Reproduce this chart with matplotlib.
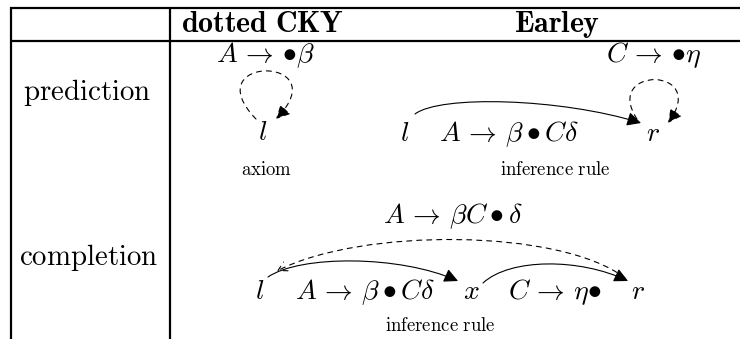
import matplotlib.pyplot as plt
from matplotlib.patches import FancyArrowPatch, ArrowStyle
from matplotlib.path import Path

plt.rcParams['mathtext.fontset'] = 'cm'

# table text
col_labels = [r'$\mathbf{dotted\ CKY}$', r'$\mathbf{Earley}$']
row_labels = [r'$\mathrm{prediction}$', r'$\mathrm{completion}$']
captions = [r'$\mathrm{axiom}$', r'$\mathrm{inference\ rule}$', r'$\mathrm{inference\ rule}$']

# items in the cells
cky_item = r'$A\,\rightarrow\,{\bullet}\beta$'
earley_pred_items = [r'$l$', r'$A\,\rightarrow\,\beta \bullet C\delta$', r'$r$']
earley_pred_top = r'$C\,\rightarrow\,{\bullet}\eta$'
compl_items = [r'$l$', r'$A\,\rightarrow\,\beta \bullet C\delta$', r'$x$',
               r'$C\,\rightarrow\,\eta{\bullet}$', r'$r$']
compl_top = r'$A\,\rightarrow\,\beta C \bullet \delta$'

W, H = 740, 339
fig = plt.figure(figsize=(W / 100, H / 100), dpi=100)
ax = fig.add_axes([0, 0, 1, 1])
ax.set_xlim(0, W)
ax.set_ylim(H, 0)
ax.axis('off')

FS = 20

# table rules
ax.plot([10, W], [8, 8], color='k', lw=1.6, solid_capstyle='butt')
ax.plot([10, W], [40.5, 40.5], color='k', lw=1.6, solid_capstyle='butt')
ax.plot([10.5, 10.5], [7.4, H], color='k', lw=1.6, solid_capstyle='butt')
ax.plot([170, 170], [7.4, H], color='k', lw=1.6, solid_capstyle='butt')

# header and row labels
ax.text(263, 31.5, col_labels[0], fontsize=21.5, ha='center', va='baseline')
ax.text(557, 31.5, col_labels[1], fontsize=21.5, ha='center', va='baseline')
ax.text(87, 100, row_labels[0], fontsize=20.8, ha='center', va='baseline')
ax.text(89, 265, row_labels[1], fontsize=20.8, ha='center', va='baseline')


def txt(x, y, s, size=FS):
    ax.text(x, y, s, fontsize=size, ha='center', va='baseline')


def arc(pts, dashed=False, head='-|>'):
    path = Path(pts, [Path.MOVETO, Path.CURVE4, Path.CURVE4, Path.CURVE4])
    if head == '-|>':
        style = ArrowStyle('-|>', head_length=0.6, head_width=0.3)
    else:
        style = ArrowStyle('->', head_length=0.45, head_width=0.25)
    ls = (0, (4.5, 4.5)) if dashed else '-'
    ax.add_patch(FancyArrowPatch(path=path, arrowstyle=style, mutation_scale=14,
                                 lw=0.8, color='k', linestyle=ls))


# prediction, dotted CKY
txt(265, 62, cky_item)
txt(263, 140, r'$l$')
txt(267, 175, captions[0], size=13.5)
arc([(256, 119), (194, 55), (338, 55), (276, 119)], dashed=True)

# prediction, Earley
for x, s in zip([405, 509, 653], earley_pred_items):
    txt(x, 141, s)
txt(654, 62, earley_pred_top)
txt(555, 175, captions[1], size=13.5)
arc([(415, 114), (440, 95), (560, 98), (641, 123)])
arc([(637, 119), (602, 66), (710, 66), (668, 123)], dashed=True)

# completion
for x, s in zip([260, 365, 471, 555, 638], compl_items):
    txt(x, 299, s)
txt(453, 223, compl_top)
txt(440, 331, captions[2], size=13.5)
arc([(268, 277), (300, 255), (400, 255), (458, 281)])
arc([(483, 283), (510, 258), (580, 258), (628, 281)])
arc([(625, 278), (560, 228), (360, 228), (277, 271)], dashed=True, head='->')

fig.savefig('out.png', dpi=100)
